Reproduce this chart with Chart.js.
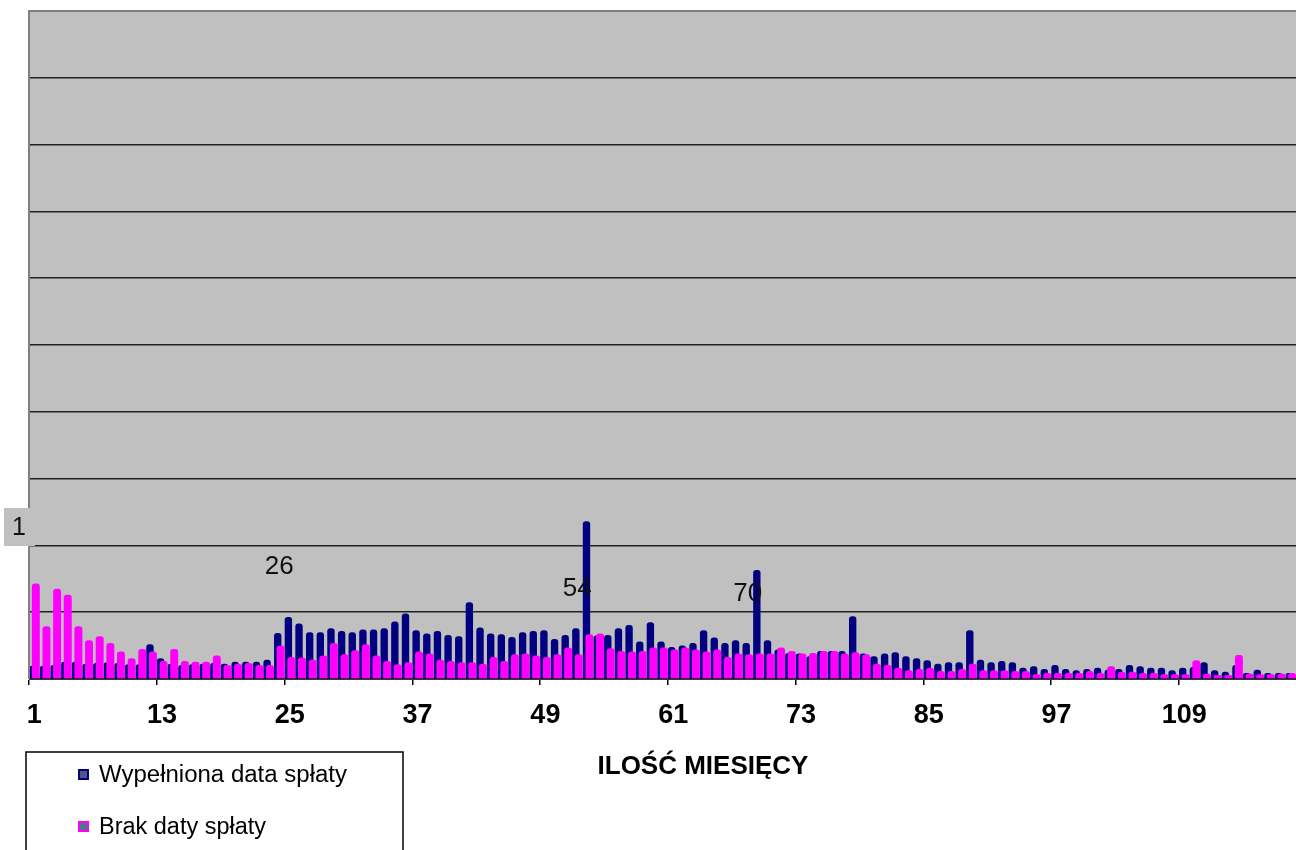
<!DOCTYPE html>
<html>
<head>
<meta charset="utf-8">
<script src="https://cdn.jsdelivr.net/npm/chart.js@4"></script>
<style>
body{margin:0;background:#fff;}
#wrap{width:1296px;height:850px;position:relative;}
</style>
</head>
<body>
<div id="wrap"><canvas id="myChart"></canvas></div>
<script>
// miesiace 1..119
var miesiace = Array.from({length: 119}, function(_, i){ return String(i + 1); });

var wypelniona = [
    2.0, 2.0, 2.1, 2.6, 2.6, 2.3, 2.4, 2.5, 2.4, 2.2, 2.2, 5.2,
    3.1, 2.3, 2.1, 2.2, 2.3, 2.4, 2.3, 2.6, 2.6, 2.6, 2.9, 6.9,
    9.3, 8.3, 7.0, 7.0, 7.6, 7.2, 7.0, 7.4, 7.4, 7.6, 8.6, 9.8,
    7.3, 6.8, 7.2, 6.6, 6.4, 11.5, 7.7, 6.8, 6.7, 6.3, 7.0, 7.2,
    7.3, 6.0, 6.6, 7.6, 23.6, 6.5, 6.6, 7.6, 8.1, 5.6, 8.5, 5.6,
    4.8, 5.0, 5.4, 7.3, 6.2, 5.4, 5.8, 5.4, 16.3, 5.8, 4.4, 3.9,
    3.8, 3.4, 4.2, 4.2, 4.2, 9.4, 3.8, 3.4, 3.8, 4.0, 3.4, 3.1,
    2.8, 2.3, 2.5, 2.5, 7.3, 2.9, 2.5, 2.7, 2.5, 1.7, 1.9, 1.5,
    2.1, 1.5, 1.3, 1.5, 1.7, 1.4, 1.5, 2.1, 1.9, 1.7, 1.7, 1.3,
    1.7, 1.8, 2.5, 1.3, 1.1, 2.1, 0.9, 1.4, 0.9, 0.9, 0.9
];
var brak = [
    14.3, 7.9, 13.5, 12.6, 7.9, 5.8, 6.4, 5.4, 4.1, 3.1, 4.5, 4.1,
    2.7, 4.5, 2.7, 2.6, 2.6, 3.5, 2.1, 2.3, 2.4, 2.1, 2.1, 5.0,
    3.3, 3.2, 2.9, 3.5, 5.4, 3.7, 4.3, 5.2, 3.5, 2.7, 2.2, 2.5,
    4.1, 3.8, 2.9, 2.7, 2.5, 2.5, 2.3, 3.3, 2.7, 3.7, 3.8, 3.5,
    3.3, 3.7, 4.7, 3.7, 6.7, 6.8, 4.6, 4.2, 4.1, 4.2, 4.7, 4.7,
    4.4, 4.7, 4.4, 4.1, 4.4, 3.3, 3.8, 3.7, 3.8, 3.8, 4.7, 4.2,
    3.8, 3.9, 4.2, 4.2, 3.8, 4.0, 3.7, 2.3, 2.1, 1.7, 1.3, 1.5,
    1.7, 1.2, 1.2, 1.5, 2.3, 1.3, 1.3, 1.3, 1.2, 1.2, 0.7, 0.9,
    0.9, 0.9, 0.9, 1.2, 0.9, 1.9, 1.1, 1.1, 0.9, 0.9, 0.7, 0.7,
    0.7, 2.8, 0.8, 0.6, 0.6, 3.6, 0.8, 0.7, 0.7, 0.8, 0.9
];
var coIle = 12;            // etykiety osi co 12 miesiecy
var yMax = 100, yKrok = 10;

// opisy nad slupkami
var opisy = ['26', '54', '70'];
var opisyMiesiac = [24, 52, 68];
var opisyWartosc = [16.8, 13.5, 12.7];

var legenda = ['Wypełniona data spłaty', 'Brak daty spłaty'];

var dodatki = {
    id: 'dodatki',
    beforeDraw: function(chart){
        var c = chart.ctx, a = chart.chartArea;
        c.save();
        c.fillStyle = '#c0c0c0';
        c.fillRect(a.left, a.top, a.right - a.left, a.bottom - a.top);
        c.restore();
    },
    // granatowe slupki najpierw, rozowe na wierzchu
    beforeDatasetsDraw: function(chart){
        chart.getDatasetMeta(0).controller.draw();
    },
    beforeDatasetDraw: function(chart, args){
        if (args.index === 0) return false;
    },
    afterDraw: function(chart){
        var c = chart.ctx, a = chart.chartArea;
        var x = chart.scales.x, y = chart.scales.y;
        c.save();
        // ramka wykresu
        c.strokeStyle = '#808080';
        c.lineWidth = 2;
        c.beginPath();
        c.moveTo(a.left, a.bottom);
        c.lineTo(a.left, a.top);
        c.lineTo(a.right, a.top);
        c.stroke();

        // opisy
        c.fillStyle = '#111';
        c.font = '26px "Liberation Sans", Arial, sans-serif';
        c.textAlign = 'center';
        c.textBaseline = 'middle';
        for (var i = 0; i < opisy.length; i++) {
            c.fillText(opisy[i], x.getPixelForValue(opisyMiesiac[i] - 1), y.getPixelForValue(opisyWartosc[i]));
        }

        // etykieta "1" z lewej
        c.fillStyle = '#c0c0c0';
        c.fillRect(4, 508, 31, 38);
        c.fillStyle = '#111';
        c.font = '25px "Liberation Sans", Arial, sans-serif';
        c.fillText('1', 19, 528);

        // tytul osi
        c.font = 'bold 26px "Liberation Sans", Arial, sans-serif';
        c.fillStyle = '#000';
        c.fillText('ILOŚĆ MIESIĘCY', 703, 767);

        // legenda
        c.strokeStyle = '#000';
        c.lineWidth = 1.5;
        c.beginPath();
        c.moveTo(26, 852);
        c.lineTo(26, 752);
        c.lineTo(403, 752);
        c.lineTo(403, 852);
        c.stroke();
        var kolory = ['#000080', '#ff00ff'];
        var wypelnienie = ['#50558a', '#4d7a80'];
        var wiersze = [776, 828];
        var szer = [248, 167];
        c.textAlign = 'left';
        c.font = '23px "Liberation Sans", Arial, sans-serif';
        for (var j = 0; j < legenda.length; j++) {
            c.fillStyle = wypelnienie[j];
            c.fillRect(79, wiersze[j] - 6, 9, 9);
            c.strokeStyle = kolory[j];
            c.lineWidth = 2;
            c.strokeRect(79, wiersze[j] - 6, 9, 9);
            c.fillStyle = '#000';
            var w = c.measureText(legenda[j]).width;
            c.save();
            c.translate(99, wiersze[j]);
            c.scale(szer[j] / w, 1);
            c.fillText(legenda[j], 0, 0);
            c.restore();
        }
        c.restore();
    }
};

var ctx = document.getElementById('myChart').getContext('2d');
var myChart = new Chart(ctx, {
    type: 'bar',
    data: {
        labels: miesiace,
        datasets: [{
            label: legenda[0],
            data: wypelniona,
            backgroundColor: '#000080',
            categoryPercentage: 0.554,
            barPercentage: 2.5,
            borderRadius: 3
        }, {
            label: legenda[1],
            data: brak,
            backgroundColor: '#ff00ff',
            categoryPercentage: 0.554,
            barPercentage: 2.7,
            borderRadius: 3
        }]
    },
    options: {
        responsive: true,
        maintainAspectRatio: false,
        animation: false,
        layout: { padding: { left: 29, top: 11, right: 0, bottom: 0 } },
        plugins: { legend: { display: false }, tooltip: { enabled: false } },
        scales: {
            x: {
                grid: {
                    drawOnChartArea: false,
                    tickLength: 6,
                    lineWidth: 1.5,
                    color: function(c){ return c.index % coIle === 0 ? '#000' : 'rgba(0,0,0,0)'; }
                },
                border: { display: true, color: '#333', width: 1 },
                ticks: {
                    autoSkip: false,
                    maxRotation: 0,
                    minRotation: 0,
                    padding: 2,
                    color: '#000',
                    font: { family: '"Liberation Sans", Arial, sans-serif', size: 27, weight: 'bold', lineHeight: 2.1 },
                    callback: function(v, i){ return i % coIle === 0 ? this.getLabelForValue(v) : ''; }
                },
                afterFit: function(s){ s.height = 171; }
            },
            y: {
                min: 0,
                max: yMax,
                ticks: { display: false, stepSize: yKrok },
                border: { display: false },
                grid: {
                    drawTicks: false,
                    lineWidth: 1.5,
                    color: function(c){ return c.tick.value === yMax ? '#808080' : '#222'; }
                }
            }
        }
    },
    plugins: [dodatki]
});
</script>
</body>
</html>
